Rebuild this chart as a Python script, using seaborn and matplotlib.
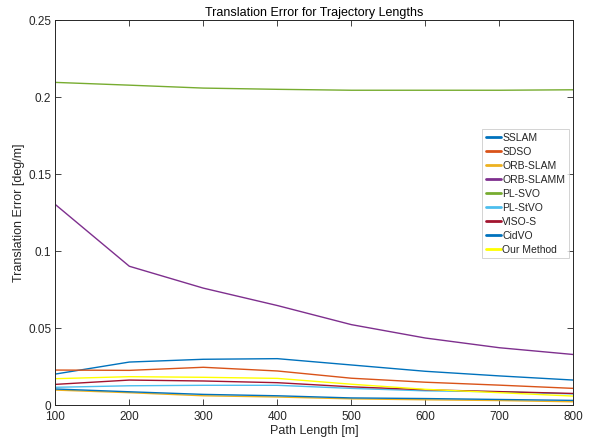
import numpy as np
import pandas as pd
import matplotlib
matplotlib.use("Agg")
import matplotlib.pyplot as plt
import seaborn as sns

path_lengths = [100, 200, 300, 400, 500, 600, 700, 800]
methods = ["SSLAM", "SDSO", "ORB-SLAM", "ORB-SLAMM", "PL-SVO", "PL-StVO", "VISO-S", "CidVO", "Our Method"]

sslam = [0.0201, 0.0279, 0.0297, 0.0301, 0.0260, 0.0219, 0.0189, 0.0162]
sdso = [0.0227, 0.0225, 0.0245, 0.0221, 0.0174, 0.0148, 0.0129, 0.0108]
orb_slam = [0.0097, 0.0080, 0.0060, 0.0052, 0.0040, 0.0034, 0.0029, 0.0021]
orb_slamm = [0.1302, 0.0901, 0.0759, 0.0646, 0.0522, 0.0435, 0.0372, 0.0328]
pl_svo = [0.2095, 0.2077, 0.2058, 0.2050, 0.2044, 0.2044, 0.2044, 0.2047]
pl_stvo = [0.0115, 0.0125, 0.0128, 0.0128, 0.0108, 0.0092, 0.0086, 0.0072]
viso_s = [0.0134, 0.0162, 0.0156, 0.0145, 0.0118, 0.0099, 0.0087, 0.0075]
cidvo = [0.0104, 0.0086, 0.0069, 0.0060, 0.0046, 0.0042, 0.0036, 0.0030]
our_method = [0.0171, 0.0184, 0.0180, 0.0173, 0.0135, 0.0102, 0.0080, 0.0058]

series = [sslam, sdso, orb_slam, orb_slamm, pl_svo, pl_stvo, viso_s, cidvo, our_method]
colors = ["#0072BD", "#D95319", "#EDB120", "#7E2F8E", "#77AC30", "#4DBEEE", "#A2142F", "#0072BD", "#FFFF00"]

rows = []
for m, vals in zip(methods, series):
    for x, v in zip(path_lengths, vals):
        rows.append({"Path Length [m]": x, "Translation Error [deg/m]": v, "Method": m})
df = pd.DataFrame(rows)

sns.set_style("white")
plt.rcParams["font.family"] = ["Liberation Sans", "DejaVu Sans"]

fig = plt.figure(figsize=(5.95, 4.41), dpi=100)
ax = fig.add_axes([0.093, 0.0816, 0.8706, 0.873])

sns.lineplot(data=df, x="Path Length [m]", y="Translation Error [deg/m]", hue="Method",
             hue_order=methods, palette=dict(zip(methods, colors)), linewidth=1.0, ax=ax,
             estimator=None, sort=False)

ax.set_xlim(100, 800)
ax.set_ylim(0, 0.25)
ax.set_xticks(path_lengths)
ax.set_yticks([0, 0.05, 0.1, 0.15, 0.2, 0.25])
ax.set_yticklabels(["0", "0.05", "0.1", "0.15", "0.2", "0.25"])
ax.tick_params(direction="in", length=4, width=0.6, labelsize=8.5, colors="#262626",
               top=True, right=True, bottom=True, left=True)
ax.tick_params(axis="x", pad=4.5)
ax.tick_params(axis="y", pad=3)
for s in ax.spines.values():
    s.set_color("#262626")
    s.set_linewidth(0.7)
ax.set_xlabel("Path Length [m]", fontsize=9, color="#262626", labelpad=1)
ax.set_ylabel("Translation Error [deg/m]", fontsize=9, color="#262626", labelpad=2)
ax.set_title("Translation Error for Trajectory Lengths", fontsize=9, color="#000000", pad=3)

leg = ax.legend(loc="upper right", bbox_to_anchor=(0.9915, 0.716), fontsize=7.5,
                frameon=True, fancybox=False, edgecolor="#bfbfbf", handlelength=1.5,
                handletextpad=0.1, labelspacing=0.38, borderpad=0.35, borderaxespad=0.0)
leg.get_frame().set_linewidth(0.6)
for line in leg.get_lines():
    line.set_linewidth(2.0)

fig.savefig("out.png", dpi=100)
